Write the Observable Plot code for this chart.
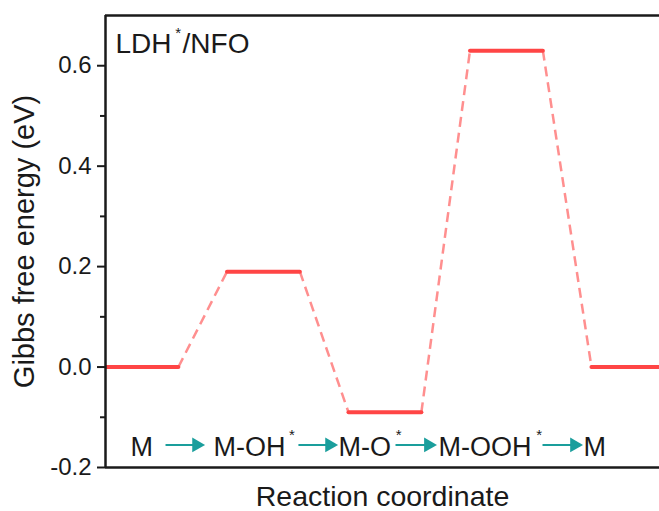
<!DOCTYPE html>
<html>
<head>
<meta charset="utf-8">
<script src="https://cdn.jsdelivr.net/npm/d3@7"></script>
<script src="https://cdn.jsdelivr.net/npm/@observablehq/plot@0.6"></script>
<style>
  html, body { margin: 0; padding: 0; background: #fff; }
</style>
</head>
<body>
<div id="chart"></div>
<script>
// ---- data ----
const steps = ["M", "M-OH", "M-O", "M-OOH", "M"];
const energies = [0.0, 0.19, -0.09, 0.63, 0.0];
const stepStars = ["", "*", "*", "*", ""];
const majorTicks = [-0.2, 0.0, 0.2, 0.4, 0.6];
const minorTicks = [-0.1, 0.1, 0.3, 0.5];
const yLabel = "Gibbs free energy (eV)";
const xLabel = "Reaction coordinate";
const panelLabel = ["LDH", "*", "/NFO"];
// label positions along the reaction axis (step units)
const stepLabelX = [0.206, 0.889, 1.918, 2.741, 3.934];
const stepStarX = [null, 1.51, 2.39, 3.545, null];
const arrowX1 = [0.494, 1.588, 2.387, 3.597];
const arrowX2 = [0.782, 1.877, 2.691, 3.893];
const arrowY = -0.155;
const labelBaselineY = -0.1775;
const starTopY = -0.124;
const levelWidth = 0.6;

const levels = steps.map((s, i) => ({x1: i, x2: i + levelWidth, y: energies[i]}));
const connectors = energies.slice(1).map((e, i) => ({x1: i + levelWidth, y1: energies[i], x2: i + 1, y2: e}));
const labels = steps.map((s, i) => ({x: stepLabelX[i], text: s}));
const stars = stepStars.map((s, i) => ({x: stepStarX[i], text: s})).filter(d => d.text);
const arrows = arrowX1.map((x1, i) => ({x1, x2: arrowX2[i], y: arrowY}));

const red = "#ff4545";
const pink = "#ff8f8f";
const teal = "#1a9e9c";
const ink = "#1a1a1a";

const chart = Plot.plot({
  width: 659,
  height: 511,
  marginLeft: 105,
  marginRight: 0,
  marginTop: 15,
  marginBottom: 44,
  style: {fontFamily: "'Liberation Sans', Arial, sans-serif", fontSize: "24px", background: "white", color: ink},
  x: {domain: [0, 4.56], axis: null},
  y: {domain: [-0.2, 0.7], axis: null},
  marks: [
    // dashed connectors
    Plot.link(connectors, {x1: "x1", y1: "y1", x2: "x2", y2: "y2", stroke: pink, strokeWidth: 2.5, strokeDasharray: "10,6"}),
    // energy levels
    Plot.link(levels, {x1: "x1", x2: "x2", y1: "y", y2: "y", stroke: red, strokeWidth: 4, strokeLinecap: "round", clip: true}),
    // frame
    Plot.ruleX([0], {stroke: ink, strokeWidth: 2.5}),
    Plot.ruleY([-0.2, 0.7], {stroke: ink, strokeWidth: 2.5}),
    // y axis
    Plot.axisY(majorTicks, {tickSize: 8, tickPadding: 6, strokeWidth: 2, fontSize: 24, tickFormat: d => d.toFixed(1), label: null}),
    Plot.axisY(minorTicks, {tickSize: 5, strokeWidth: 2, tickFormat: () => "", label: null}),
    Plot.text([yLabel], {frameAnchor: "left", rotate: -90, textAnchor: "middle", lineAnchor: "top", dx: -92, fontSize: 29, fill: ink}),
    Plot.text([xLabel], {frameAnchor: "bottom", textAnchor: "middle", lineAnchor: "top", dy: 18, fontSize: 28.5, fill: ink}),
    // panel label
    Plot.text([panelLabel[0]], {x: 0.082, y: 0.626, textAnchor: "start", lineAnchor: "bottom", fontSize: 28, fill: ink}),
    Plot.text([panelLabel[1]], {x: 0.575, y: 0.676, textAnchor: "start", lineAnchor: "top", fontSize: 15, fill: ink}),
    Plot.text([panelLabel[2]], {x: 0.634, y: 0.626, textAnchor: "start", lineAnchor: "bottom", fontSize: 28, fill: ink}),
    // reaction step labels
    Plot.text(labels, {x: "x", y: labelBaselineY, text: "text", textAnchor: "start", lineAnchor: "bottom", fontSize: 27, fill: ink}),
    Plot.text(stars, {x: "x", y: starTopY, text: "text", textAnchor: "start", lineAnchor: "top", fontSize: 15, fill: ink}),
    // arrows
    Plot.link(arrows, {x1: "x1", x2: "x2", y1: "y", y2: "y", stroke: teal, strokeWidth: 2}),
    Plot.dot(arrows, {x: "x2", y: "y", symbol: "triangle", rotate: 90, r: 5.5, fill: teal, stroke: "none", dx: -4})
  ]
});
document.getElementById("chart").appendChild(chart);
</script>
</body>
</html>
